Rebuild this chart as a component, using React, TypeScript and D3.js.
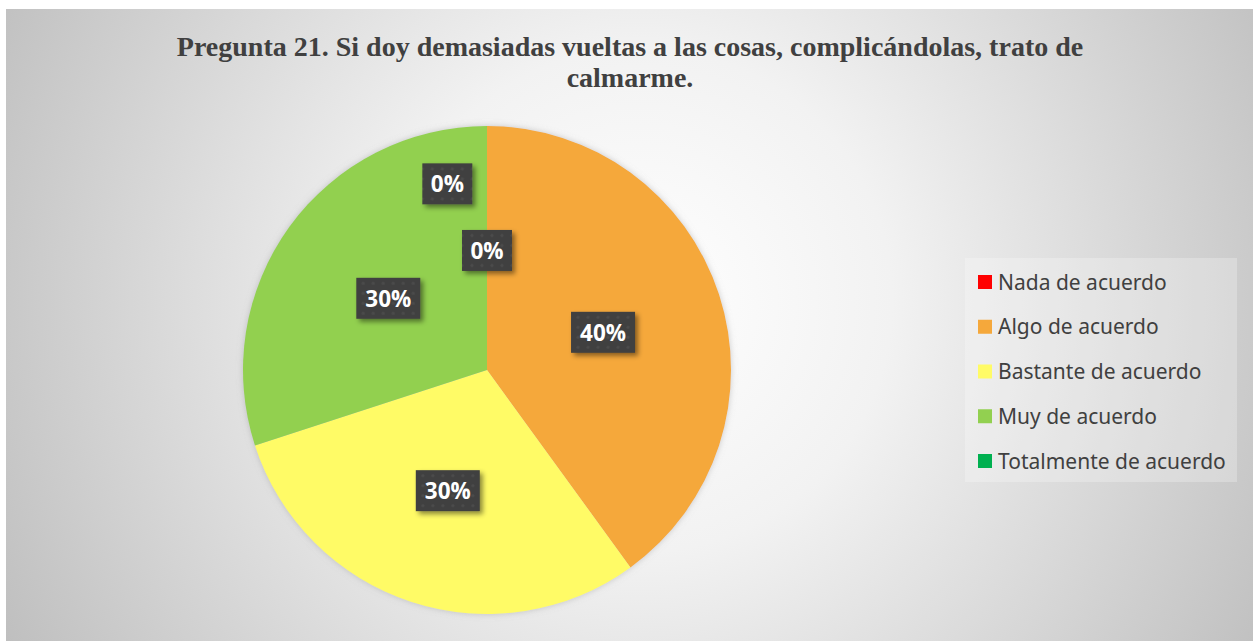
import React from 'react';
import * as d3 from 'd3';

const categories = ['Nada de acuerdo', 'Algo de acuerdo', 'Bastante de acuerdo', 'Muy de acuerdo', 'Totalmente de acuerdo'];
const values = [0, 40, 30, 30, 0];
const colors = ['#FF0000', '#F5A83B', '#FFFB66', '#92D050', '#00B050'];
// label placement nudges (radius fraction, angle shift in radians) as Excel moved the overlapping 0% labels
const labelRadius = [0.49, 0.5, 0.52, 0.5, 0.78];
const labelShift = [0, 0, 0, 0, -0.21];
const titleLines = ['Pregunta 21. Si doy demasiadas vueltas a las cosas, complicándolas, trato de', 'calmarme.'];

const width = 1253;
const height = 641;

const App = () => {
  const cx = 487;
  const cy = 370;
  const r = 244;
  const total = d3.sum(values);

  const pie = d3.pie<number>().sort(null).value(d => d);
  const arcs = pie(values);
  const arc = d3.arc<d3.PieArcDatum<number>>().innerRadius(0).outerRadius(r);

  const legendY = d3.scalePoint<string>().domain(categories).range([282, 461]);

  return (
    <svg width={width} height={height} style={{ position: 'absolute', left: 0, top: 0 }}>
      <defs>
        <radialGradient id="bg" gradientUnits="userSpaceOnUse" cx="640" cy="300" r="720">
          <stop offset="0" stopColor="#ffffff" />
          <stop offset="0.35" stopColor="#f2f2f2" />
          <stop offset="1" stopColor="#bfbfbf" />
        </radialGradient>
        <pattern id="dots" width="10" height="10" patternUnits="userSpaceOnUse">
          <rect width="10" height="10" fill="#404040" />
          <circle cx="5" cy="5" r="1.6" fill="#4c4c4c" />
        </pattern>
        <filter id="shadow" x="-30%" y="-30%" width="170%" height="170%">
          <feDropShadow dx="3" dy="3" stdDeviation="2.5" floodColor="#000" floodOpacity="0.45" />
        </filter>
        <filter id="pieGlow" x="-10%" y="-10%" width="120%" height="120%">
          <feDropShadow dx="0" dy="0" stdDeviation="3" floodColor="#999" floodOpacity="0.5" />
        </filter>
      </defs>
      <rect x={0} y={0} width={width} height={height} fill="#ffffff" />
      <rect x={6} y={9} width={width - 6} height={height - 9} fill="url(#bg)" />

      {titleLines.map((t, i) => (
        <text key={i} x={630} y={56 + i * 31} textAnchor="middle"
          fontFamily="'Liberation Serif', 'Times New Roman', serif" fontWeight="bold" fontSize={28} fill="#404040">
          {t}
        </text>
      ))}

      <g transform={`translate(${cx},${cy})`} filter="url(#pieGlow)">
        {arcs.map((a, i) => (
          <path key={i} d={arc(a) || ''} fill={colors[i]} />
        ))}
      </g>

      <g transform={`translate(${cx},${cy})`}>
        {arcs.map((a, i) => {
          const mid = (a.startAngle + a.endAngle) / 2 + labelShift[i];
          const lr = r * labelRadius[i];
          const x = Math.sin(mid) * lr;
          const y = -Math.cos(mid) * lr;
          const txt = `${Math.round((a.data / total) * 100)}%`;
          const w = txt.length === 2 ? 50 : 64;
          const h = 41;
          return (
            <g key={i} transform={`translate(${x},${y})`}>
              <rect x={-w / 2} y={-h / 2} width={w} height={h} fill="url(#dots)" filter="url(#shadow)" />
              <text x={0} y={8.5} textAnchor="middle" fontFamily="'Open Sans', 'Noto Sans', sans-serif"
                fontWeight="bold" fontSize={22.5} fill="#ffffff">{txt}</text>
            </g>
          );
        })}
      </g>

      <rect x={965} y={258} width={272} height={224} fill="#ffffff" fillOpacity={0.25} />
      {categories.map((c, i) => (
        <g key={c} transform={`translate(978,${legendY(c)})`}>
          <rect x={0} y={-7} width={14} height={14} fill={colors[i]} />
          <text x={20} y={7.5} fontFamily="'Noto Sans', 'Open Sans', sans-serif" fontSize={21} fill="#404040">{c}</text>
        </g>
      ))}
    </svg>
  );
};

export default App;
